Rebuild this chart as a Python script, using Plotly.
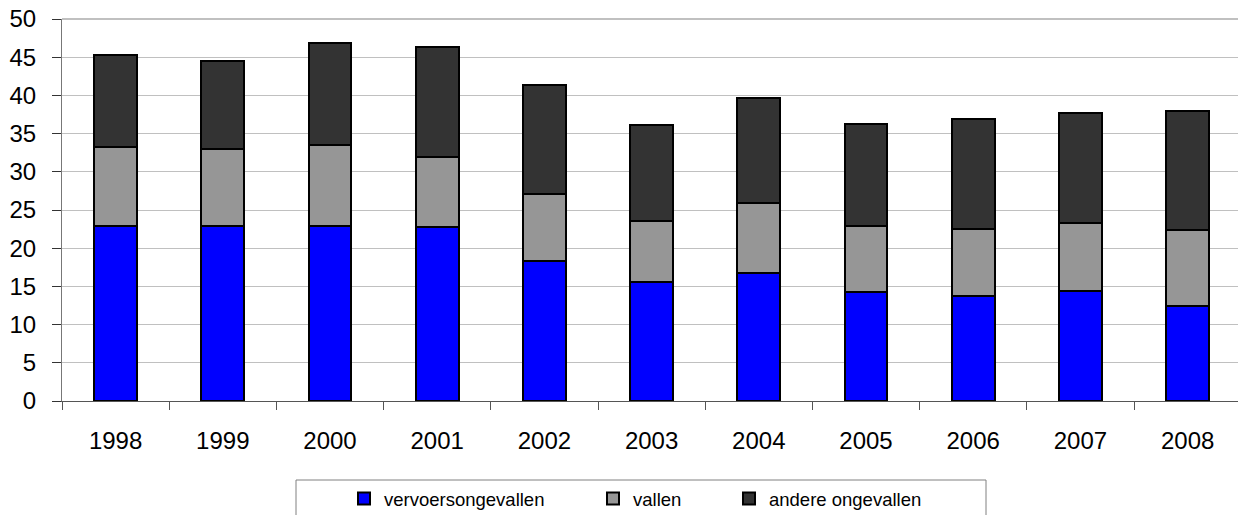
import plotly.graph_objects as go

years = ["1998", "1999", "2000", "2001", "2002", "2003", "2004", "2005", "2006", "2007", "2008"]
vervoersongevallen = [22.9, 22.9, 22.9, 22.8, 18.3, 15.6, 16.8, 14.3, 13.7, 14.4, 12.5]
vallen = [10.3, 10.1, 10.6, 9.2, 8.8, 7.9, 9.1, 8.6, 8.8, 8.85, 9.9]
andere_ongevallen = [12.1, 11.5, 13.3, 14.4, 14.2, 12.65, 13.7, 13.4, 14.4, 14.45, 15.5]

series_names = ["vervoersongevallen", "vallen", "andere ongevallen"]
series_values = [vervoersongevallen, vallen, andere_ongevallen]
series_colors = ["#0000FF", "#969696", "#333333"]
legend_widths = [204, 91, 170]

FONT = "Liberation Sans, Arial, sans-serif"

fig = go.Figure()
for name, vals, col, lw in zip(series_names, series_values, series_colors, legend_widths):
    fig.add_trace(go.Bar(
        x=years, y=vals, name=name,
        marker=dict(color=col, line=dict(color="#000000", width=2)),
        width=0.4, legendwidth=lw,
    ))

fig.update_layout(
    barmode="stack",
    width=1238, height=515,
    margin=dict(l=62, r=0, t=19, b=114, autoexpand=False),
    paper_bgcolor="white", plot_bgcolor="white",
    font=dict(family=FONT, color="#000000"),
    showlegend=True,
    legend=dict(
        orientation="h",
        xref="container", yref="container",
        x=344 / 1238, xanchor="left",
        y=1 - 499 / 515, yanchor="middle",
        font=dict(size=18.5, family=FONT),
        bgcolor="rgba(0,0,0,0)",
        traceorder="normal",
    ),
    xaxis=dict(
        type="category",
        range=[-0.5, 10.47],
        automargin=False,
        showline=True, linecolor="#555555", linewidth=1,
        ticks="outside", ticklen=8, tickcolor="#555555", tickwidth=1,
        tickson="boundaries",
        showgrid=False,
        tickfont=dict(size=24, family=FONT),
        ticklabelstandoff=18,
    ),
    yaxis=dict(
        range=[0, 50], dtick=5, tick0=0,
        automargin=False,
        showline=True, linecolor="#777777", linewidth=1,
        ticks="outside", ticklen=9, tickcolor="#333333", tickwidth=1,
        showgrid=True, gridcolor="#c0c0c0", gridwidth=1,
        zeroline=False,
        tickfont=dict(size=24, family=FONT),
        ticklabelstandoff=11,
    ),
    shapes=[
        dict(type="line", xref="paper", yref="paper", x0=0, x1=1, y0=1, y1=1,
             line=dict(color="#c0c0c0", width=2), layer="below"),
        dict(type="rect", xref="paper", yref="paper",
             x0=(296 - 62) / 1176, x1=(986 - 62) / 1176,
             y0=-(480 - 401) / 382, y1=-(530 - 401) / 382,
             line=dict(color="#808080", width=1), fillcolor="rgba(0,0,0,0)"),
    ],
)

fig.write_html(
    "out.html",
    config={"displayModeBar": False},
    post_script="document.body.style.margin='0px';document.body.style.padding='0px';",
)
